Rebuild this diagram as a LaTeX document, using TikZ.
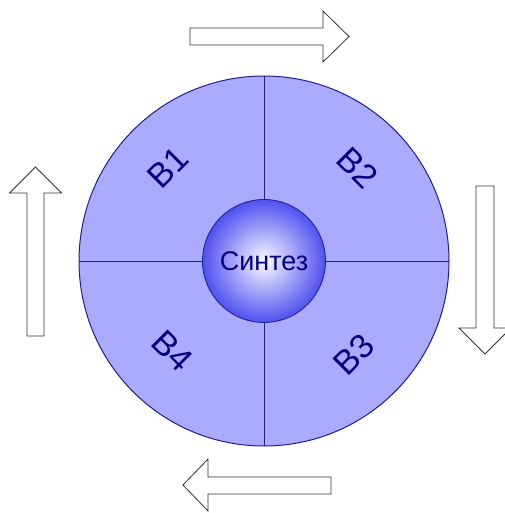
\documentclass[tikz,border=0pt]{standalone}
\usepackage{fontspec}
\setmainfont{Liberation Sans}
\usetikzlibrary{calc}
\definecolor{sectorblue}{RGB}{170,170,255}
\definecolor{rimblue}{RGB}{30,30,140}
\definecolor{corewhite}{RGB}{250,250,255}
\definecolor{coreblue}{RGB}{80,80,240}
\definecolor{labelblue}{RGB}{0,0,128}
\begin{document}
\begin{tikzpicture}[x=1pt, y=-1pt,
  blockarrow/.style = {draw=black!80, fill=white, line width=.8pt, line join=miter},
  rim/.style = {draw=rimblue, line width=1pt},
  partlabel/.style = {text=labelblue, font=\fontsize{34}{36}\selectfont, inner sep=0pt}]
\useasboundingbox (0,0) rectangle (504,513);
% big wheel
\draw[rim, fill=sectorblue] (264,261)
      circle [radius=185];
\draw[rim] (264,76) -- (264,446);
\draw[rim] (79,261) -- (449,261);
% core
\draw[draw=rimblue, line width=.8pt, inner color=corewhite, outer color=coreblue] (264,261)
      circle [radius=61.5];
\node[text=labelblue, font=\fontsize{27}{28}\selectfont, inner sep=0pt] (synth) at (264,261) {Синтез};
\node[partlabel, rotate=45]  (b1) at (168,168) {В1};
\node[partlabel, rotate=-45] (b2) at (358,168) {В2};
\node[partlabel, rotate=45]  (b3) at (354,355) {В3};
\node[partlabel, rotate=-45] (b4) at (172,351) {В4};
% arrows round the wheel
\draw[blockarrow] (190,28) -- (323,28) -- (323,11) -- (349,36.5)
      -- (323,62) -- (323,45) -- (190,45) -- cycle;
\draw[blockarrow] (476,186) -- (494,186) -- (494,328) -- (511,328)
      -- (485,354) -- (459,328) -- (476,328) -- cycle;
\draw[blockarrow] (331,477) -- (208,477) -- (208,459) -- (183,485)
      -- (208,511) -- (208,494) -- (331,494) -- cycle;
\draw[blockarrow] (27,336) -- (27,193) -- (9.5,193) -- (35.5,167)
      -- (61.5,193) -- (44,193) -- (44,336) -- cycle;
\end{tikzpicture}
\end{document}
